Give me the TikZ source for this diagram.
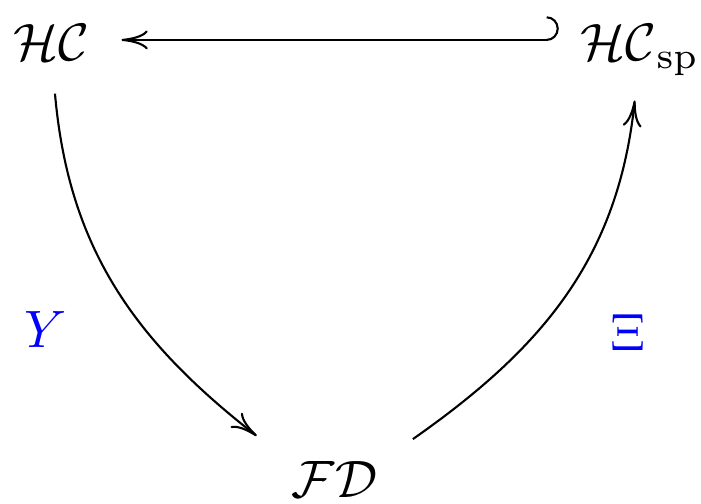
\documentclass[tikz,border=0pt]{standalone}
\usetikzlibrary{arrows.meta}
\begin{document}
\begin{tikzpicture}[x=0.19pt,y=-0.19pt,
  obj/.style={inner sep=0pt,text height=7pt,text depth=2pt,anchor=base},
  lbl/.style={inner sep=0pt,text=blue},
  tip/.style={Computer Modern Rightarrow[length=5pt,width=3.6pt]},
  arr/.style={line width=0.4pt,-{Computer Modern Rightarrow[length=5pt,width=3.6pt]}},
  hookarr/.style={line width=0.4pt,{Hooks[left,width=9pt,length=2.3pt]}-{Computer Modern Rightarrow[length=5pt,width=3.6pt]}}]
\useasboundingbox (0,0) rectangle (701,504);
\node[obj] (hc) at (51.5,61) {$\mathcal{HC}$};
\node[obj] (hcsp) at (640,61) {$\mathcal{HC}_{\mathrm{sp}}$};
\node[obj] (fd) at (334.5,497) {$\mathcal{FD}$};
\node[lbl] (y) at (46,330) {$Y$};
\node[lbl] (xi) at (628,333) {$\Xi$};
\draw[hookarr] ([shift={(-4pt,4pt)}]hcsp.base west) -- ([shift={(5.9pt,4pt)}]hc.base east);
\draw[arr] ([shift={(0.66pt,-4pt)}]hc.south) to[out=-85,in=142] ([shift={(-6.5pt,4.4pt)}]fd.north west);
\draw[arr] ([shift={(6.6pt,3.8pt)}]fd.north east) to[out=35,in=-96] ([shift={(-1pt,-5.3pt)}]hcsp.south);
\end{tikzpicture}
\end{document}
